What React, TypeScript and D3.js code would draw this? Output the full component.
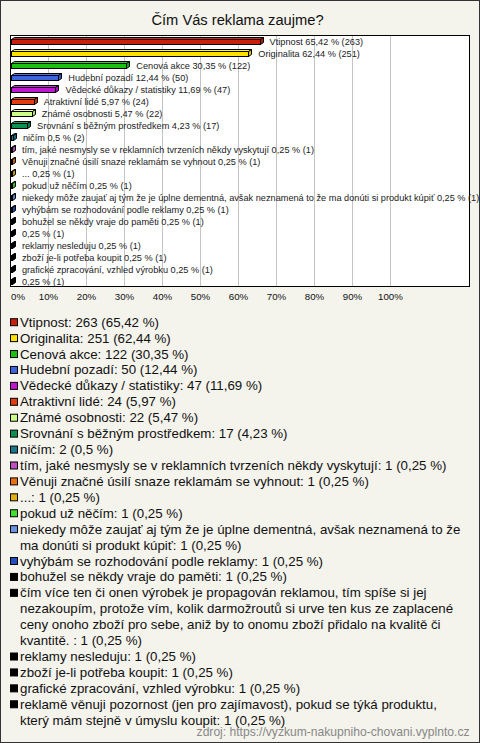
import React from "react";
import * as d3 from "d3";

const W = 480;
const H = 743;

const title = "Čím Vás reklama zaujme?";
const source = "zdroj: https://vyzkum-nakupniho-chovani.vyplnto.cz";

const categories = [
  "Vtipnost",
  "Originalita",
  "Cenová akce",
  "Hudební pozadí",
  "Vědecké důkazy / statistiky",
  "Atraktivní lidé",
  "Známé osobnosti",
  "Srovnání s běžným prostředkem",
  "ničím",
  "tím, jaké nesmysly se v reklamních tvrzeních někdy vyskytují",
  "Věnuji značné úsilí snaze reklamám se vyhnout",
  "...",
  "pokud už něčím",
  "niekedy môže zaujať aj tým že je úplne dementná, avšak neznamená to že ma donúti si produkt kúpiť",
  "vyhýbám se rozhodování podle reklamy",
  "bohužel se někdy vraje do paměti",
  "čím více ten či onen výrobek je propagován reklamou, tím spíše si jej nezakoupím, protože vím, kolik darmožroutů si urve ten kus ze zaplacené ceny onoho zboží pro sebe, aniž by to onomu zboží přidalo na kvalitě či kvantitě. ",
  "reklamy nesleduju",
  "zboží je-li potřeba koupit",
  "grafické zpracování, vzhled výrobku",
  "reklamě věnuji pozornost (jen pro zajímavost), pokud se týká produktu, který mám stejně v úmyslu koupit",
];

const counts = [263, 251, 122, 50, 47, 24, 22, 17, 2, 1, 1, 1, 1, 1, 1, 1, 1, 1, 1, 1, 1];
const percents = [65.42, 62.44, 30.35, 12.44, 11.69, 5.97, 5.47, 4.23, 0.5, 0.25, 0.25, 0.25, 0.25, 0.25, 0.25, 0.25, 0.25, 0.25, 0.25, 0.25, 0.25];

// categories whose text is not printed next to the bar
const hiddenBarText = [16, 20];

// words that start a new legend line (as in the original wrapping)
const legendBreakWords: Record<number, string[]> = {
  13: ["ma"],
  16: ["nezakoupím,", "ceny", "kvantitě."],
  20: ["který"],
};

const xTicks = [0, 10, 20, 30, 40, 50, 60, 70, 80, 90, 100];

const colors = [
  "#c8200c",
  "#ffe000",
  "#1cc010",
  "#3c64dc",
  "#c018d0",
  "#e03c10",
  "#ccff88",
  "#0c9050",
  "#1c7888",
  "#c050c0",
  "#e87010",
  "#e0b010",
  "#40e030",
  "#6894e0",
  "#2050c0",
  "#000000",
  "#000000",
  "#000000",
  "#000000",
  "#000000",
  "#000000",
];

const fmt = (v: number) => String(v).replace(".", ",");

const LEGEND_FONT = "13.3px 'Liberation Sans', Arial, sans-serif";

function splitLines(text: string, breaks: string[] = []): string[] {
  const words = text.split(" ");
  const lines: string[] = [];
  let cur: string[] = [];
  let bi = 0;
  for (const w of words) {
    if (bi < breaks.length && w === breaks[bi] && cur.length) {
      lines.push(cur.join(" "));
      cur = [];
      bi++;
    }
    cur.push(w);
  }
  if (cur.length) lines.push(cur.join(" "));
  return lines;
}

export default function App() {
  const x = d3.scaleLinear().domain([0, 100]).range([11, 391]);
  const y = d3
    .scaleBand<number>()
    .domain(d3.range(categories.length))
    .range([35, 287])
    .padding(0);
  const plot = { x0: 10, y0: 35, x1: 470, y1: 287 };
  const dx = 3;
  const dy = 2;

  const legendItems = categories.map((c, i) =>
    splitLines(`${c}: ${counts[i]} (${fmt(percents[i])} %)`, legendBreakWords[i])
  );
  let lineIdx = 0;
  const LH = 15.92;
  const L0 = 326.7;

  return (
    <div style={{ position: "absolute", left: 0, top: 0 }}>
      <svg width={W} height={H} style={{ display: "block" }}>
        <rect x={0.5} y={0.5} width={W - 1} height={H - 1} fill="#f4f3ec" stroke="#333" />
        <text
          x={237.5}
          y={24.5}
          textAnchor="middle"
          fontFamily="'Liberation Sans', Arial, sans-serif"
          fontSize={14.7}
          fill="#111"
        >
          {title}
        </text>
        <rect
          x={plot.x0 + 0.5}
          y={plot.y0 + 0.5}
          width={plot.x1 - plot.x0 - 1}
          height={plot.y1 - plot.y0 - 1}
          fill="#fff"
          stroke="none"
        />
        {xTicks
          .filter((t) => t > 0)
          .map((t) => (
            <line
              key={t}
              x1={Math.round(x(t)) - 0.5}
              x2={Math.round(x(t)) - 0.5}
              y1={plot.y0}
              y2={plot.y1}
              stroke="#c4c4c4"
            />
          ))}
        <rect
          x={plot.x0 + 0.5}
          y={plot.y0 + 0.5}
          width={plot.x1 - plot.x0 - 1}
          height={plot.y1 - plot.y0 - 1}
          fill="none"
          stroke="#000"
        />
        {categories.map((c, i) => {
          const cy = (y(i) as number) + y.bandwidth() / 2;
          const x0 = x(0) + 0.5;
          const x1 = Math.round(x(percents[i])) + 0.5;
          const top = Math.round(cy) - 1.5;
          const bot = Math.round(cy) + 3.5;
          const col = d3.color(colors[i])!;
          const pt = (a: number[][]) => a.map((p) => p.join(",")).join(" ");
          return (
            <g key={i} stroke="#000" strokeWidth={1} strokeLinejoin="miter">
              <polygon
                points={pt([
                  [x0, top],
                  [x0 + dx, top - dy],
                  [x1 + dx, top - dy],
                  [x1, top],
                ])}
                fill={col.brighter(0.4).formatHex()}
              />
              <polygon
                points={pt([
                  [x1, top],
                  [x1 + dx, top - dy],
                  [x1 + dx, bot - dy],
                  [x1, bot],
                ])}
                fill={col.darker(0.4).formatHex()}
              />
              <rect x={x0} y={top} width={x1 - x0} height={bot - top} fill={colors[i]} />
              <text
                x={x(percents[i]) + 10}
                y={cy + 3.5}
                stroke="none"
                fill="#222"
                fontFamily="'Liberation Sans', Arial, sans-serif"
                fontSize={9.2}
              >
                {hiddenBarText.includes(i)
                  ? `${fmt(percents[i])} % (${counts[i]})`
                  : `${c} ${fmt(percents[i])} % (${counts[i]})`}
              </text>
            </g>
          );
        })}
        {xTicks.map((t) => (
          <text
            key={t}
            x={t === 0 ? x(t) : x(t) - 0.5}
            y={300}
            textAnchor={t === 0 ? "start" : "middle"}
            fontFamily="'Liberation Sans', Arial, sans-serif"
            fontSize={9.7}
            fill="#111"
          >
            {t}%
          </text>
        ))}
        {legendItems.map((lines, i) => {
          const start = lineIdx;
          lineIdx += lines.length;
          const by = L0 + start * LH;
          return (
            <g key={i}>
              <rect x={10.5} y={by - 8} width={7} height={7} fill={colors[i]} stroke="#000" />
              {lines.map((ln, j) => (
                <text
                  key={j}
                  x={20}
                  y={by + j * LH}
                  style={{ font: LEGEND_FONT }}
                  fill="#111"
                >
                  {ln}
                </text>
              ))}
            </g>
          );
        })}
        <text
          x={469.5}
          y={736}
          textAnchor="end"
          fontFamily="'Liberation Sans', Arial, sans-serif"
          fontSize={12.1}
          fill="#888"
        >
          {source}
        </text>
      </svg>
    </div>
  );
}
